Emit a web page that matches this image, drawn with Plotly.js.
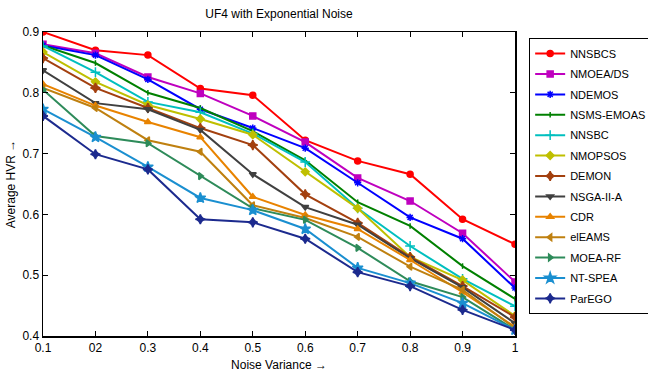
<!DOCTYPE html>
<html>
<head>
<meta charset="utf-8">
<script src="https://cdn.plot.ly/plotly-3.0.1.min.js"></script>
<style>html,body{margin:0;padding:0;background:#fff;}#chart{width:648px;height:381px;}</style>
</head>
<body>
<div id="chart"></div>
<script>
const noiseVariance = [0.1, 0.2, 0.3, 0.4, 0.5, 0.6, 0.7, 0.8, 0.9, 1.0];
const xTickLabels = ["0.1", "02", "0.3", "0.4", "0.5", "0.6", "0.7", "0.8", "0.9", "1"];
const yTickValues = [0.4, 0.5, 0.6, 0.7, 0.8, 0.9];
const yTickLabels = ["0.4", "0.5", "0.6", "0.7", "0.8", "0.9"];

const algorithms = ["NNSBCS", "NMOEA/DS", "NDEMOS", "NSMS-EMOAS", "NNSBC", "NMOPSOS", "DEMON", "NSGA-II-A", "CDR", "elEAMS", "MOEA-RF", "NT-SPEA", "ParEGO"];

const NNSBCS    = [0.900, 0.870, 0.862, 0.807, 0.796, 0.722, 0.688, 0.666, 0.592, 0.551];
const NMOEA_DS  = [0.880, 0.865, 0.826, 0.799, 0.762, 0.719, 0.660, 0.622, 0.569, 0.489];
const NDEMOS    = [0.878, 0.862, 0.822, 0.773, 0.742, 0.709, 0.652, 0.595, 0.560, 0.479];
const NSMS_EMOAS= [0.878, 0.849, 0.800, 0.775, 0.737, 0.689, 0.620, 0.581, 0.515, 0.461];
const NNSBC     = [0.877, 0.834, 0.785, 0.768, 0.733, 0.686, 0.610, 0.548, 0.494, 0.449];
const NMOPSOS   = [0.867, 0.818, 0.780, 0.757, 0.731, 0.670, 0.610, 0.530, 0.492, 0.433];
const DEMON     = [0.857, 0.808, 0.775, 0.742, 0.714, 0.633, 0.586, 0.530, 0.482, 0.431];
const NSGA_II_A = [0.837, 0.783, 0.773, 0.739, 0.666, 0.612, 0.583, 0.528, 0.480, 0.421];
const CDR       = [0.814, 0.779, 0.752, 0.727, 0.629, 0.599, 0.576, 0.525, 0.472, 0.415];
const elEAMS    = [0.808, 0.775, 0.722, 0.703, 0.615, 0.594, 0.563, 0.514, 0.476, 0.413];
const MOEA_RF   = [0.805, 0.729, 0.717, 0.663, 0.610, 0.591, 0.545, 0.490, 0.464, 0.410];
const NT_SPEA   = [0.773, 0.727, 0.678, 0.627, 0.607, 0.576, 0.512, 0.487, 0.454, 0.410];
const ParEGO    = [0.762, 0.699, 0.674, 0.592, 0.587, 0.560, 0.505, 0.482, 0.443, 0.410];

const seriesValues = [NNSBCS, NMOEA_DS, NDEMOS, NSMS_EMOAS, NNSBC, NMOPSOS, DEMON, NSGA_II_A, CDR, elEAMS, MOEA_RF, NT_SPEA, ParEGO];
const colors = ["#ff0000", "#bf00bf", "#0000ff", "#008000", "#00bfbf", "#bfbf00", "#a3400f", "#404040", "#e88300", "#bf8010", "#2e8b5a", "#1a8fd0", "#1c2a8e"];
const symbols = ["circle", "square", "asterisk-open", "line-ns-open", "cross-thin-open", "diamond", "star-diamond", "triangle-down", "triangle-up", "triangle-left", "triangle-right", "star", "star-diamond"];
const sizes = [6, 6, 6, 4, 7, 6, 7, 6, 6, 6, 6, 8, 7];

const FONT = "'Liberation Sans', Arial, sans-serif";

const traces = algorithms.map((name, i) => ({
  type: "scatter",
  mode: "lines+markers",
  name: name,
  legendgroup: "g" + i,
  x: noiseVariance,
  y: seriesValues[i],
  line: {color: colors[i], width: 2},
  marker: {symbol: symbols[i], size: sizes[i], color: colors[i], line: {color: colors[i], width: 1.5}}
}));

const layout = {
  width: 648, height: 381,
  margin: {l: 43, r: 133, t: 32, b: 45, autoexpand: false},
  paper_bgcolor: "#ffffff", plot_bgcolor: "#ffffff",
  font: {family: FONT, size: 12, color: "#000"},
  title: {text: "UF4 with Exponential Noise", xref: "paper", x: 0.5, xanchor: "center", yref: "container", y: 0.963, yanchor: "middle", font: {family: FONT, size: 12, color: "#000"}},
  xaxis: {
    range: [0.1, 1.0], tickvals: noiseVariance, ticktext: xTickLabels,
    ticks: "inside", ticklen: 5, tickcolor: "#000", showgrid: false, zeroline: false,
    showline: true, linecolor: "#000", linewidth: 1.5, mirror: "ticks",
    tickfont: {family: FONT, size: 12, color: "#000"},
    title: {text: "Noise Variance \u2192", font: {family: FONT, size: 12, color: "#000"}, standoff: 6}
  },
  yaxis: {
    range: [0.4, 0.9], tickvals: yTickValues, ticktext: yTickLabels,
    ticks: "inside", ticklen: 5, tickcolor: "#000", showgrid: false, zeroline: false,
    showline: true, linecolor: "#000", linewidth: 1.5, mirror: "ticks",
    tickfont: {family: FONT, size: 12, color: "#000"},
    title: {text: "Average HVR \u2192", font: {family: FONT, size: 12, color: "#000"}, standoff: 4}
  },
  showlegend: true,
  legend: {
    x: 1.03, xanchor: "left", y: 0.98, yanchor: "top",
    bordercolor: "#000", borderwidth: 1, bgcolor: "#fff",
    font: {family: FONT, size: 11, color: "#000"},
    itemwidth: 30, tracegroupgap: 1.4, traceorder: "grouped"
  }
};

Plotly.newPlot("chart", traces, layout, {displayModeBar: false, staticPlot: true});
</script>
</body>
</html>
